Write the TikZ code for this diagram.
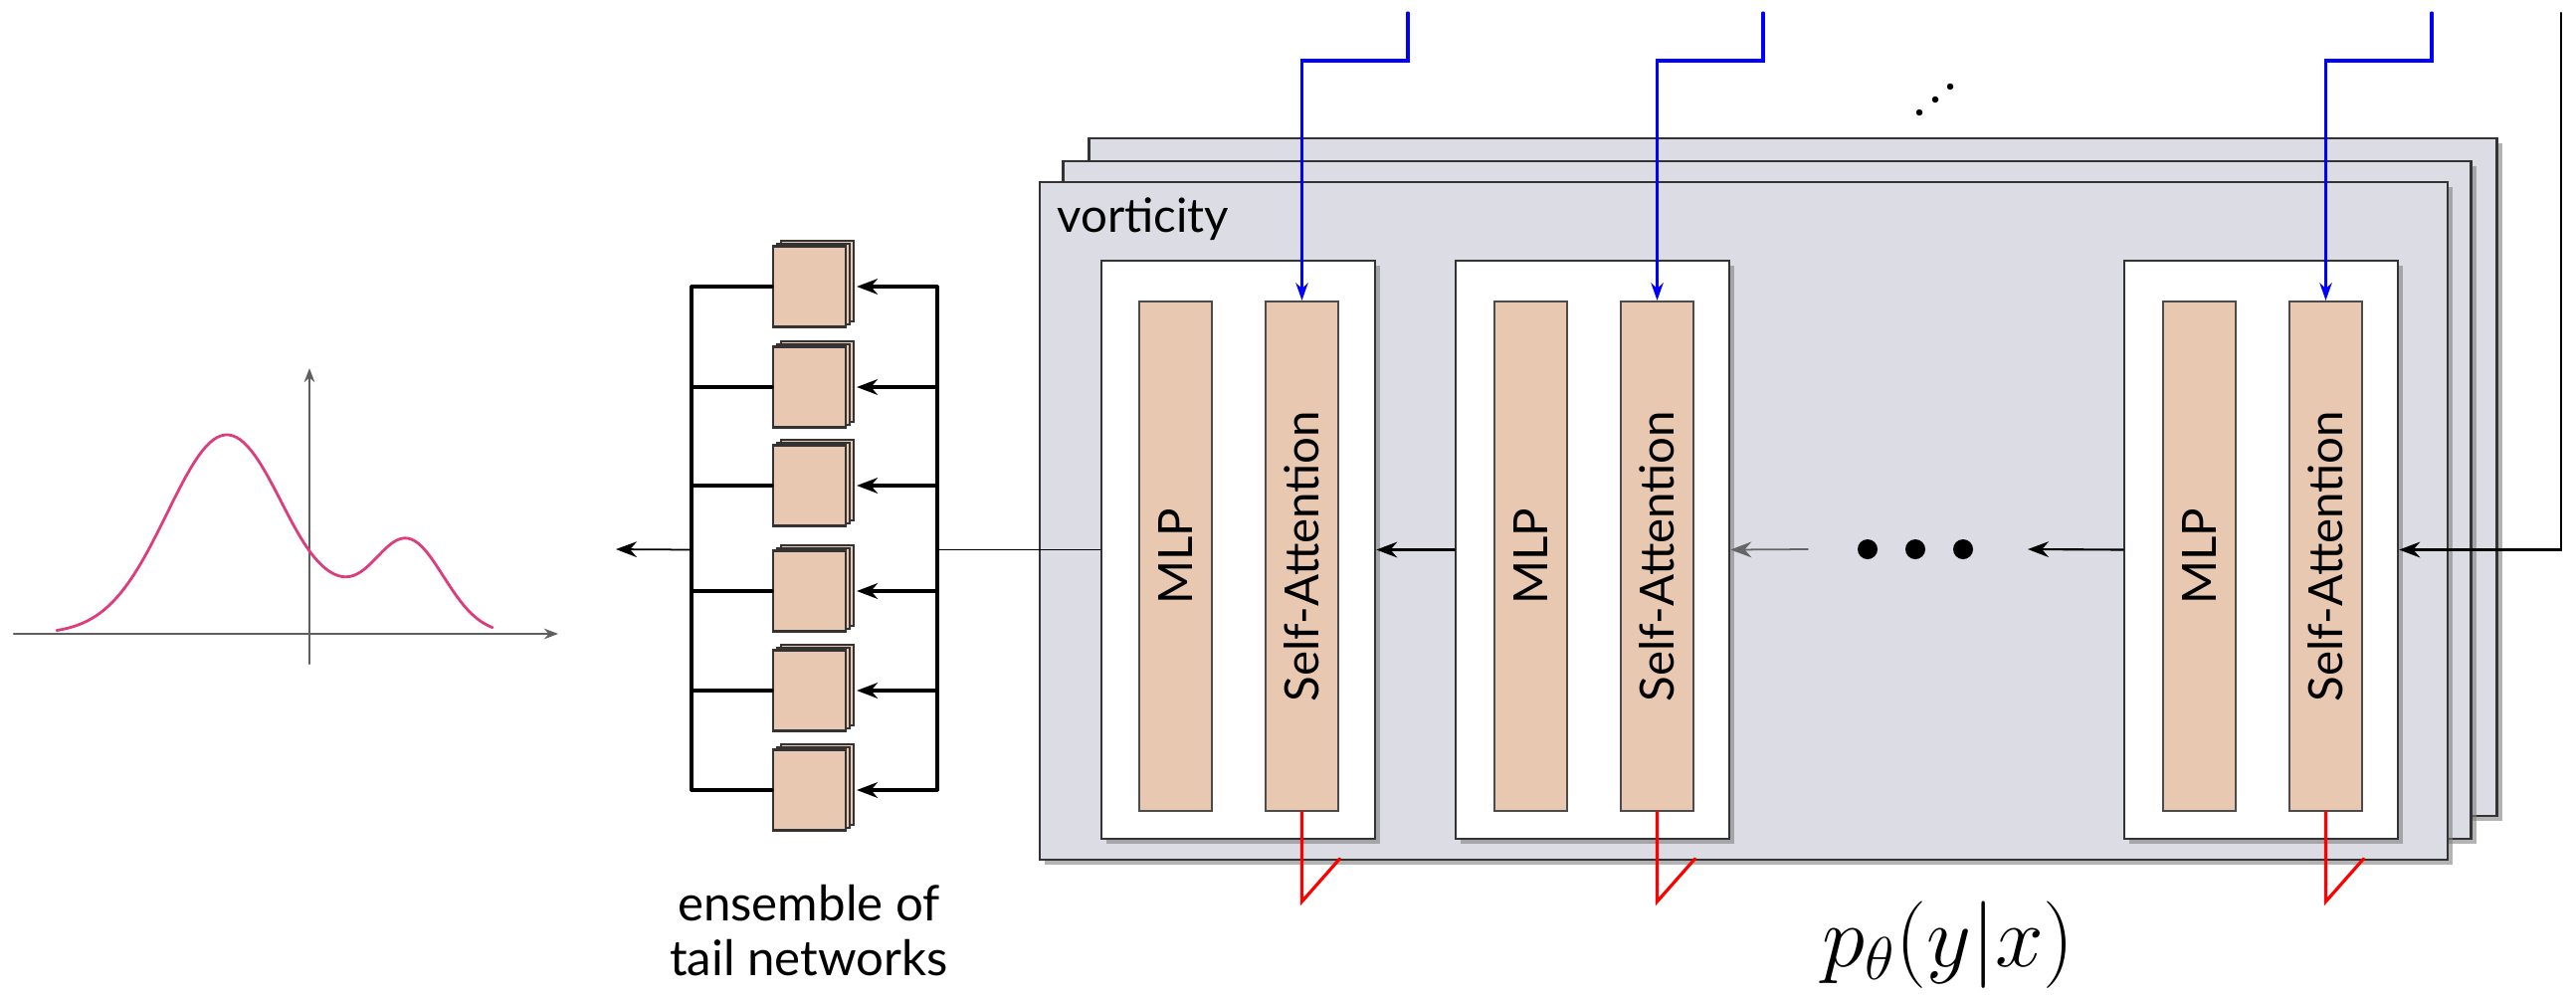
\documentclass[tikz,border=0pt]{standalone}
\usepackage{fontspec}
\setmainfont{Lato}
\usetikzlibrary{arrows.meta,shadows}
\definecolor{panelfill}{RGB}{220,221,228}
\definecolor{barfill}{RGB}{233,200,178}
\definecolor{curvecol}{RGB}{221,61,125}
\definecolor{axiscol}{RGB}{95,95,95}

\tikzset{
  panel/.style={draw=black!80, line width=0.8pt, fill=panelfill, minimum width=14.15cm, minimum height=6.81cm, inner sep=0pt,
    drop shadow={shadow xshift=1.5pt, shadow yshift=-1.5pt, fill=black!50, opacity=0.6}},
  block/.style={draw=black!80, line width=0.7pt, fill=white, minimum width=2.75cm, minimum height=5.81cm, inner sep=0pt,
    drop shadow={shadow xshift=1.5pt, shadow yshift=-1.5pt, fill=black!50, opacity=0.6}},
  layer/.style={draw=black!70, line width=0.6pt, fill=barfill, minimum width=0.73cm, minimum height=5.12cm, inner sep=0pt,
    font=\fontsize{13.5}{16}\selectfont},
  tail/.style={draw=black!80, line width=0.6pt, fill=barfill, minimum width=0.73cm, minimum height=0.81cm, inner sep=0pt,
    copy shadow={shadow xshift=2.2pt, shadow yshift=1.5pt}, copy shadow={shadow xshift=1.1pt, shadow yshift=0.75pt}},
  feed/.style={blue, line width=0.9pt, -{Stealth[length=5pt,width=3.5pt]}},
  ground/.style={red, line width=0.9pt},
  flow/.style={line width=0.6pt, -{Stealth[length=6pt,width=4.5pt]}},
  bigdot/.style={circle, fill, inner sep=0pt, minimum size=2mm},
  smalldot/.style={circle, fill, inner sep=0pt, minimum size=0.65mm},
}

\begin{document}
\begin{tikzpicture}[x=0.1mm, y=-0.1mm, >=Stealth, line cap=round]
\useasboundingbox (0,0) rectangle (2589,1003);
% ---------- density plot ----------
\coordinate (xl) at (14,637);
\coordinate (xr) at (561,637);
\coordinate (yb) at (311,667);
\coordinate (yt) at (311,370);
\draw[axiscol, line width=0.7pt, -{Stealth[length=4pt,width=3pt]}] (xl) -- (xr);
\draw[axiscol, line width=0.7pt, -{Stealth[length=4pt,width=3pt]}] (yb) -- (yt);
\draw[curvecol, line width=0.8pt] plot[domain=57:495, samples=120, smooth]
  (\x, {637 - 200*exp(-0.5*((\x-228)/60)^2) - 94*exp(-0.5*((\x-409)/37)^2) - 7*exp(-0.5*((\x-336)/22)^2)});
% ---------- stacked panels ----------
\node[panel] (layerC) at (1802,479.5) {};
\node[panel] (layerB) at (1776,502.5) {};
\node[panel] (layerA) at (1752.5,523.5) {};
\node[anchor=west, font=\fontsize{13.5}{15}\selectfont] (vort) at (1050,220) {vorticity};
\node[smalldot] (vd1) at (1929,113) {};
\node[smalldot] (vd2) at (1945,100) {};
\node[smalldot] (vd3) at (1960,87) {};
% ---------- block 1 ----------
\node[block] (blk1) at (1244.5,552.5) {};
\node[layer] (mlp1) at (1181.5,559) {\rotatebox{90}{MLP}};
\node[layer] (att1) at (1308.5,559) {\rotatebox{90}{Self-Attention}};
\coordinate (in1) at (1415,13);
\draw[feed] (in1) -- ++(0,48) -| (att1.north);
\draw[ground] (att1.south) -- ++(0,90) -- ++(38,-43);
% ---------- block 2 ----------
\node[block] (blk2) at (1600.5,552.5) {};
\node[layer] (mlp2) at (1538.5,559) {\rotatebox{90}{MLP}};
\node[layer] (att2) at (1665.5,559) {\rotatebox{90}{Self-Attention}};
\coordinate (in2) at (1772,13);
\draw[feed] (in2) -- ++(0,48) -| (att2.north);
\draw[ground] (att2.south) -- ++(0,90) -- ++(38,-43);
% ---------- block 3 ----------
\node[block] (blk3) at (2272.5,552.5) {};
\node[layer] (mlp3) at (2210.5,559) {\rotatebox{90}{MLP}};
\node[layer] (att3) at (2337.5,559) {\rotatebox{90}{Self-Attention}};
\coordinate (in3) at (2444,13);
\draw[feed] (in3) -- ++(0,48) -| (att3.north);
\draw[ground] (att3.south) -- ++(0,90) -- ++(38,-43);
% ---------- chain between blocks ----------
\node[bigdot] (dot1) at (1877,552) {};
\node[bigdot] (dot2) at (1925,552) {};
\node[bigdot] (dot3) at (1973,552) {};
\coordinate (gapL) at (1817,552);
\coordinate (gapR) at (2038,552);
\coordinate (inR) at (2574,13);
\draw[flow] (inR) |- (blk3.east);
\draw[flow] (blk3.west) -- (gapR);
\draw[flow, black!60, line width=0.5pt] (gapL) -- (blk2.east);
\draw[flow] (blk2.west) -- (blk1.east);
% ---------- ensemble of tail networks ----------
\coordinate (lb) at (695,0);
\coordinate (rb) at (942,0);
\node[tail] (c1) at (813.5,288) {};
\node[tail] (c2) at (813.5,389) {};
\node[tail] (c3) at (813.5,488) {};
\node[tail] (c4) at (813.5,594) {};
\node[tail] (c5) at (813.5,694) {};
\node[tail] (c6) at (813.5,794) {};
\draw[line width=0.9pt] (c1.west -| lb) -- (c6.west -| lb);
\draw[line width=0.9pt] (c1.east -| rb) -- (c6.east -| rb);
\foreach \c in {c1,c2,c3,c4,c5,c6}{
  \draw[line width=0.9pt] (\c.west) -- (\c.west -| lb);
  \draw[flow, line width=0.9pt] (\c.east -| rb) -- ([xshift=1mm]\c.east);
}
\draw[line width=0.5pt] (blk1.west) -- (blk1.west -| rb);
\coordinate (out) at (619,552);
\draw[flow, line width=0.5pt] (blk1.west -| lb) -- (out);
\node[align=center, font=\fontsize{14}{15.5}\selectfont] (ens) at (813,935) {ensemble of\\tail networks};
\node[font=\fontsize{24}{28}\selectfont] (post) at (1958,950) {$p_\theta(y|x)$};
\end{tikzpicture}
\end{document}
